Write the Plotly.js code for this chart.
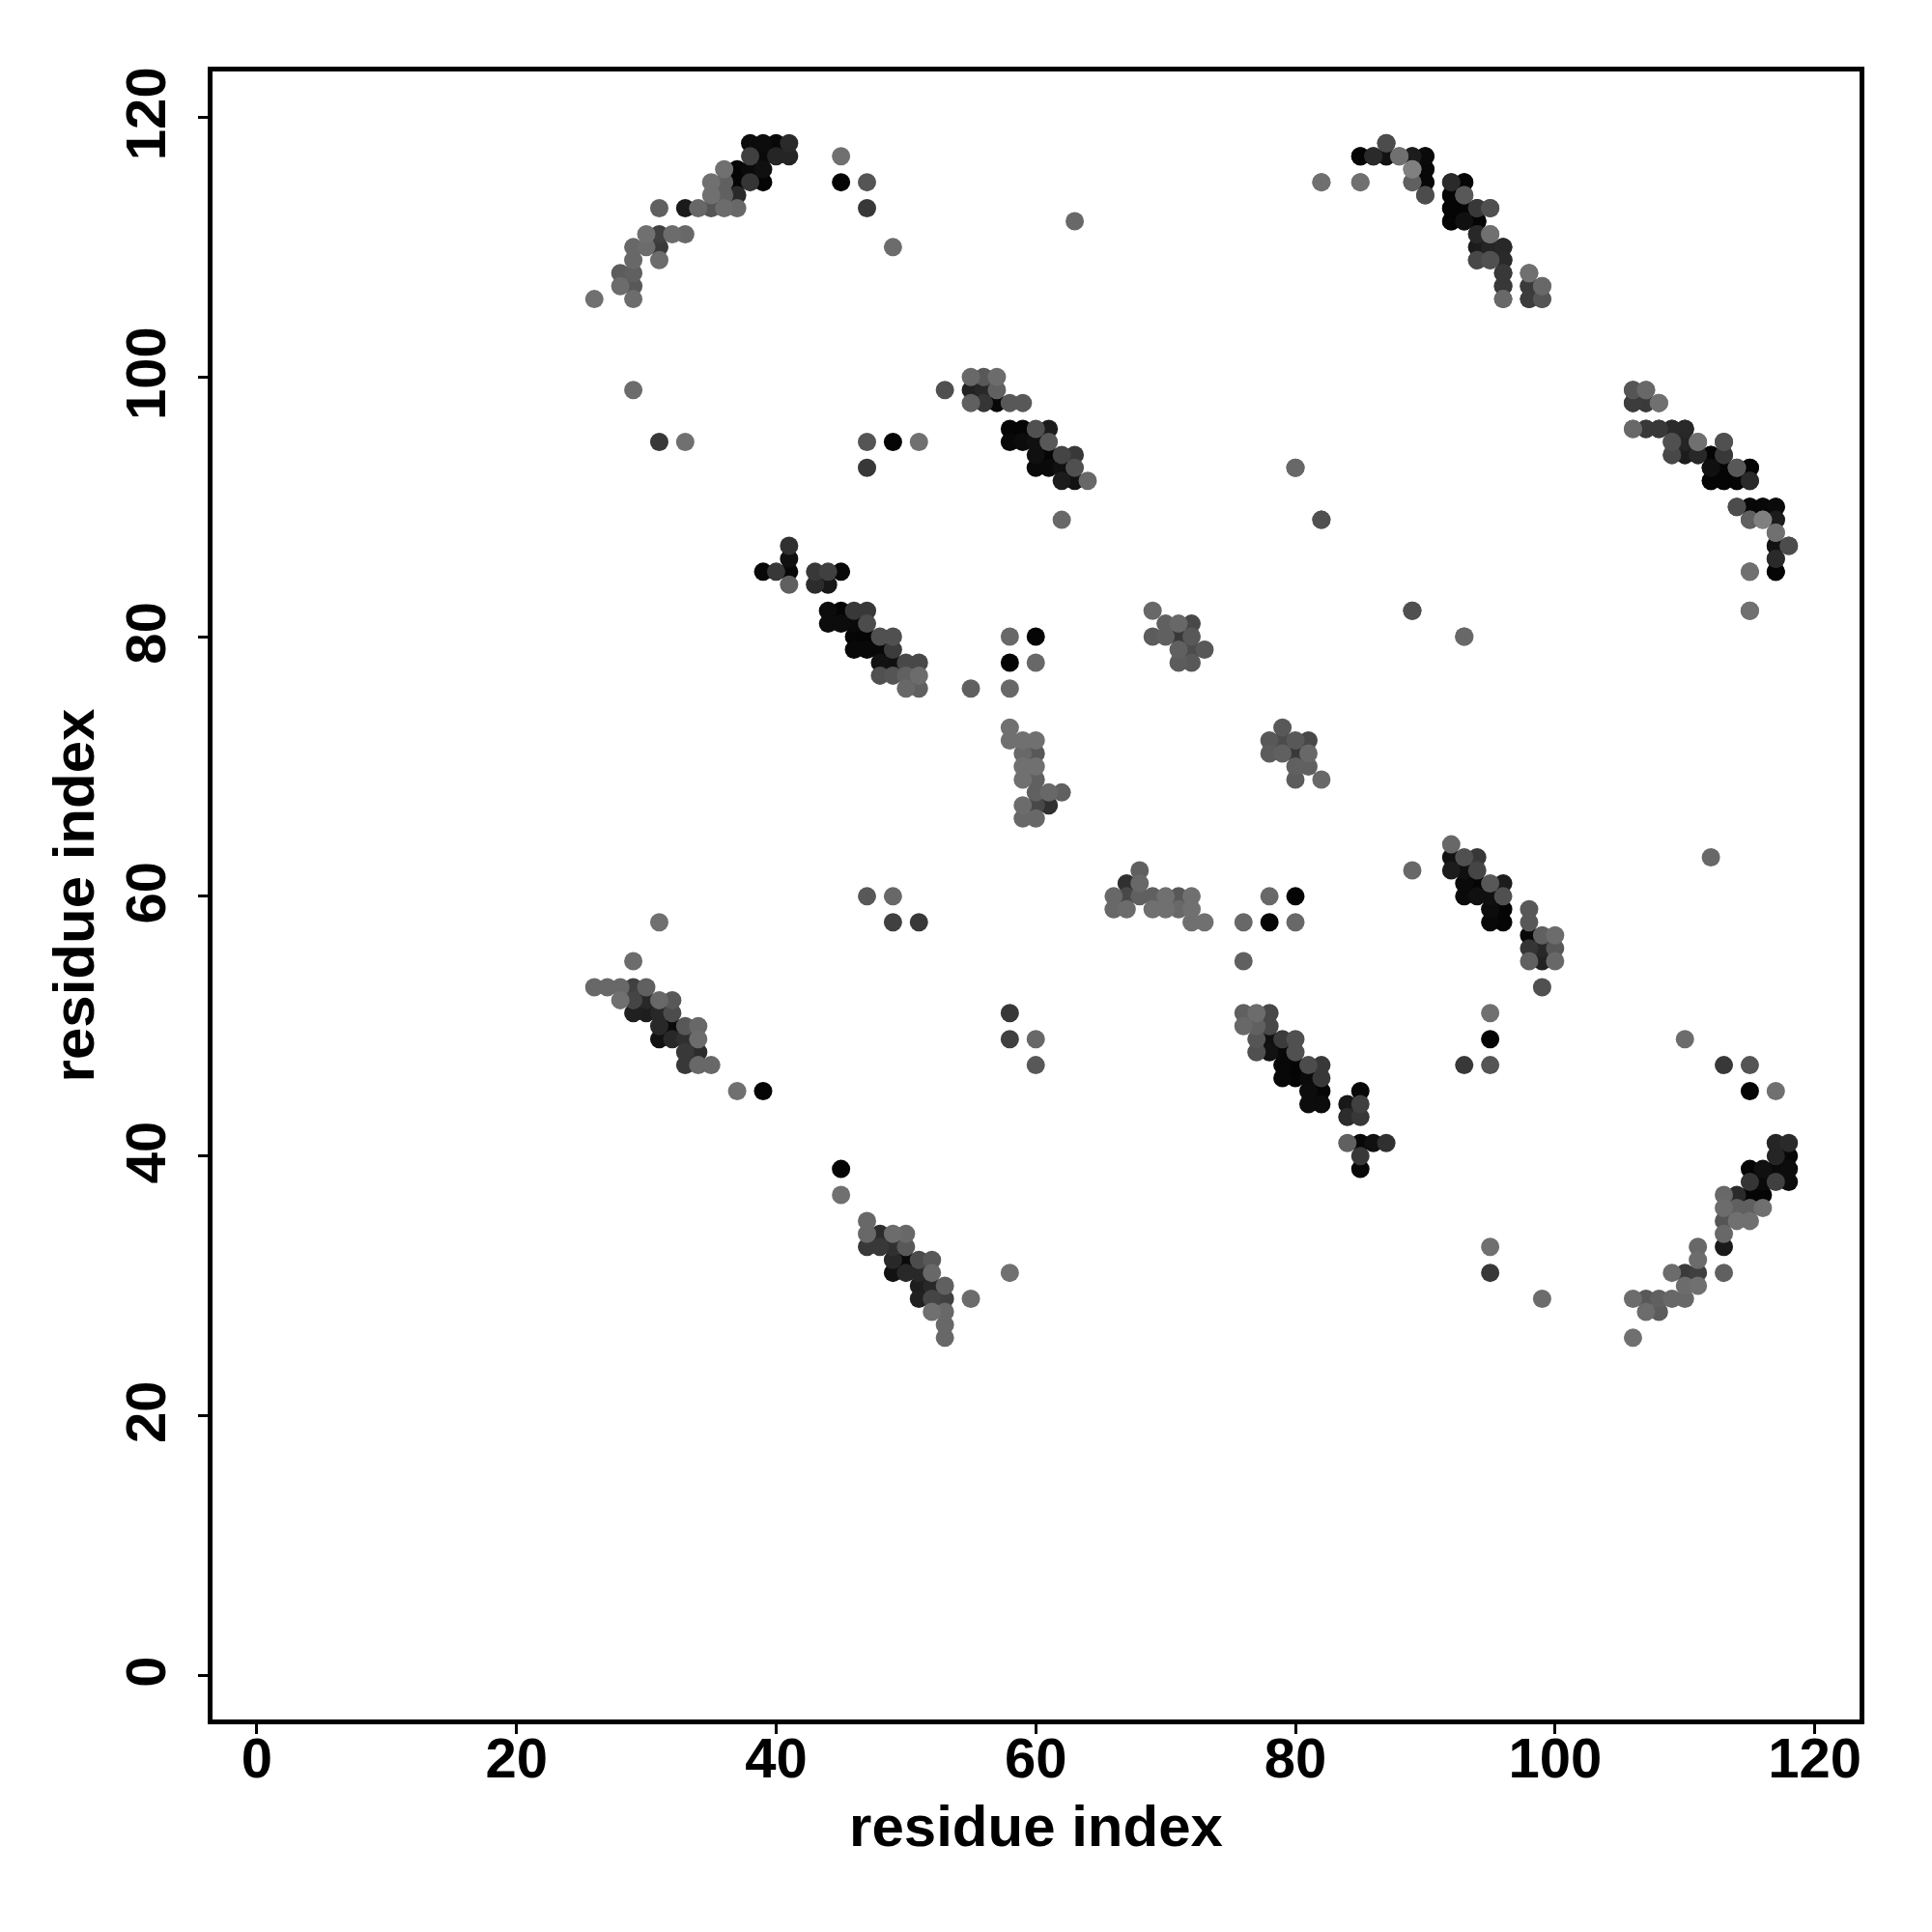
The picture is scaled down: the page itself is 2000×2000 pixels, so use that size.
<!DOCTYPE html>
<html>
<head>
<meta charset="utf-8">
<script src="https://cdn.plot.ly/plotly-3.0.1.min.js"></script>
<style>html,body{margin:0;padding:0;background:#fff}</style>
</head>
<body>
<div id="chart" style="width:2000px;height:2000px"></div>
<script>
// Contact map values: one half of the symmetric map, row by row.
const residueLow = [
 38,39,40,41,
 38,39,40,41,45,
 36,37,38,39,
 35,36,37,38,39,45,47,
 35,36,37,
 31,33,34,35,36,37,47,
 63,
 30,31,32,33,
 29,30,31,49,
 29,31,
 28,29,
 28,29,
 26,29,
 87,
 85,86,87,88,89,90,
 89,90,
 82,85,89,90,92,93,
 90,92,93,
 92,93,94,95,
 92,93,94,
 94,95,
 94,95,96,
 94,95,96,
 96,98,
 96,98,99,
 96,98,99,
 55,56,57,
 29,53,55,56,57,
 55,56,57,58,59,
 58,59,60,61,
 31,33,47,49,51,58,59,60,61,
 60,61,62,63,
 47,60,61,62,63,80,
 62,63,64,
 62,82,
 106,107,
 106,107,108,
 106,107,108,109,110,
 109,110,111,113,
 109,110,111,112,113,
 112,113,114,115,
 112,113,114,115,
 114,115,116,117,
 115,116,117,
 117,
 117,118,
 117,
 115,117,
 41,
 41,
 39,40,41,43,44,45,
 41,43,44,
 44,45,46,47,69,89,115,
 44,45,46,47,70,71,72,
 46,47,48,49,58,60,69,70,71,72,93,
 46,47,48,49,71,72,73,
 48,49,50,51,58,60,71,72,
 48,49,50,51,
 50,51,55,58,
 58,
 58,59,60,
 59,60,
 59,60,
 59,60,
 60,61,62,
 59,60,61,
 59,60,
 47,49,
 31,49,51,
 29,
 26,27,28,29,30,
 28,29,30,31,32,
 29,30,31,32,
 31,32,33,34,
 31,32,33,34,
 33,34,
 33,34,35,
 37,39
];
const residueHigh = [
 118,118,118,118,
 117,117,117,117,117,
 116,116,116,116,
 115,115,115,115,115,115,115,
 114,114,114,
 113,113,113,113,113,113,113,
 112,
 111,111,111,111,
 110,110,110,110,
 109,109,
 108,108,
 107,107,
 106,106,
 118,
 117,117,117,117,117,117,
 116,116,
 115,115,115,115,115,115,
 114,114,114,
 113,113,113,113,
 112,112,112,
 111,111,
 110,110,110,
 109,109,109,
 108,108,
 107,107,107,
 106,106,106,
 100,100,100,
 99,99,99,99,99,
 98,98,98,98,98,
 96,96,96,96,
 95,95,95,95,95,95,95,95,95,
 94,94,94,94,
 93,93,93,93,93,93,
 92,92,92,
 89,89,
 99,99,
 98,98,98,
 96,96,96,96,96,
 95,95,95,95,
 94,94,94,94,94,
 93,93,93,93,
 92,92,92,92,
 90,90,90,90,
 89,89,89,
 88,
 87,87,
 86,
 85,85,
 87,
 86,
 85,85,85,85,85,85,
 84,84,84,
 82,82,82,82,82,82,82,
 81,81,81,81,81,81,81,
 80,80,80,80,80,80,80,80,80,80,80,
 79,79,79,79,79,79,79,
 78,78,78,78,78,78,78,78,
 77,77,77,77,
 76,76,76,76,
 73,
 72,72,72,
 71,71,
 70,70,
 69,69,
 68,68,68,
 67,67,67,
 66,66,
 60,60,
 58,58,58,
 55,
 53,53,53,53,53,
 52,52,52,52,52,
 51,51,51,51,
 50,50,50,50,
 49,49,49,49,
 48,48,
 47,47,47,
 45,45
];
const shade = [
 12,12,8,42,
 64,10,37,37,112,
 112,5,10,16,
 112,96,5,53,5,5,85,
 112,96,42,
 96,26,104,85,108,104,56,
 104,
 112,64,108,104,
 104,108,58,108,
 104,108,
 92,96,
 108,88,
 112,108,
 72,
 5,42,16,112,28,8,
 128,8,
 112,112,96,5,42,5,
 76,5,80,
 5,5,56,80,
 5,12,5,
 37,112,
 24,37,40,
 72,80,42,
 48,112,
 56,56,96,
 104,60,85,
 104,88,108,
 108,80,34,40,96,
 96,53,8,88,88,
 5,5,80,28,
 56,112,85,5,112,8,12,16,88,
 16,5,69,56,
 56,10,10,16,80,104,
 28,18,104,
 104,80,
 80,104,
 58,58,112,
 104,56,56,40,40,
 80,34,108,80,
 64,28,40,5,48,
 16,5,88,2,
 5,5,5,40,
 76,8,8,10,
 96,112,28,
 112,
 18,76,
 42,
 104,5,
 48,
 16,
 8,56,8,56,64,8,
 96,44,24,
 12,5,56,56,104,72,104,
 12,12,10,76,96,104,72,
 5,5,80,80,104,5,92,96,56,88,104,
 8,8,8,60,96,76,88,
 18,16,72,72,5,104,92,88,
 80,85,96,108,
 104,96,96,104,
 112,
 112,112,112,
 104,88,
 112,112,
 112,96,
 96,104,96,
 108,72,48,
 104,104,
 88,104,
 112,64,56,
 108,
 104,104,104,64,96,
 112,69,40,104,88,
 32,30,40,76,
 40,10,88,104,
 18,40,48,108,
 56,44,
 56,104,104,
 112,5
];

const tickValues = [0, 20, 40, 60, 80, 100, 120];
const axisName = 'residue index';

const pts = [];
residueLow.forEach((a, k) => {
  const b = residueHigh[k], g = shade[k];
  pts.push({x: a, y: b, g: g});
  pts.push({x: b, y: a, g: g});
});
pts.sort((p, q) => p.g - q.g);

const family = '"Liberation Sans", Arial, sans-serif';
const tickFont = {family: family, size: 58, color: '#000', weight: 700};
const titleFont = {family: family, size: 60, color: '#000', weight: 700};
const axisBase = {
  tickmode: 'array', tickvals: tickValues, ticktext: tickValues.map(String),
  ticks: 'outside', ticklen: 10, tickwidth: 3, tickcolor: '#000',
  showline: true, linewidth: 5, linecolor: '#000', mirror: true,
  showgrid: false, zeroline: false, tickfont: tickFont, automargin: false
};

Plotly.newPlot('chart', [{
  type: 'scatter', mode: 'markers',
  x: pts.map(p => p.x), y: pts.map(p => p.y),
  marker: {size: 19, line: {width: 0}, color: pts.map(p => `rgb(${p.g},${p.g},${p.g})`)},
  hoverinfo: 'x+y'
}], {
  width: 2000, height: 2000,
  margin: {l: 220, r: 75, t: 74, b: 220, pad: 0},
  paper_bgcolor: '#fff', plot_bgcolor: '#fff',
  showlegend: false,
  xaxis: Object.assign({}, axisBase, {range: [-3.41, 123.45], ticklabelstandoff: -25,
    title: {text: axisName, font: titleFont, standoff: 20}}),
  yaxis: Object.assign({}, axisBase, {range: [-3.40, 123.53], tickangle: -90, ticklabelstandoff: 11, ticklabelshift: 5,
    title: {text: axisName, font: titleFont, standoff: 2}})
}, {displayModeBar: false});
</script>
</body>
</html>
